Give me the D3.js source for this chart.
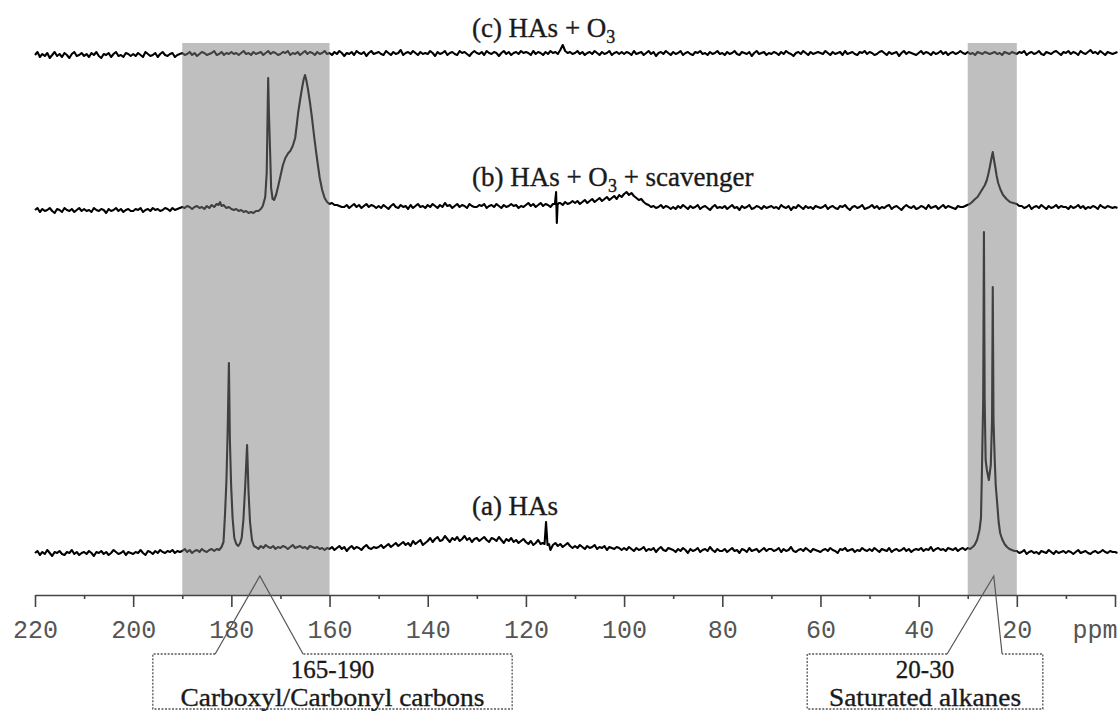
<!DOCTYPE html>
<html><head><meta charset="utf-8">
<script src="https://cdn.jsdelivr.net/npm/d3@7/dist/d3.min.js"></script>
<style>body{margin:0;background:#fff}svg{display:block}</style>
</head><body><div id="chart"></div>
<script>
// ---------- DATA ----------
const gridStart = 220, gridStep = 0.5;           // ppm sampling grid of the noise arrays
const traceNames = ["a", "b", "c"];
const traceOffsets = [44, 386, 540];             // stacking offsets (intensity units)
const majorTicks = [220, 200, 180, 160, 140, 120, 100, 80, 60, 40, 20, 0];
const tickLabels = ["220", "200", "180", "160", "140", "120", "100", "80", "60", "40", "20", "ppm"];
const minorTicks = [210, 190, 170, 150, 130, 110, 90, 70, 50, 30, 10];
const bands = [[190, 160], [30, 20]];
const calloutRanges = ["165-190", "20-30"];
const calloutNames = ["Carboxyl/Carbonyl carbons", "Saturated alkanes"];
const calloutApex = [174.2, 24.7];
const calloutBox = [[196, 122.8], [62.7, 14.7]];
const calloutGap = [[183.3, 165.4], [34.2, 23.0]];
const labelParts = [["(a) HAs"], ["(b) HAs + O", "3", " + scavenger"], ["(c) HAs + O", "3"]];

// baseline noise (intensity relative to trace baseline), every 0.5 ppm from 220 ppm
const noiseA = [
-3,-1,-5,-2,-4,0,-3,-6,-2,-3,-1,-4,-5,-2,-3,0,-4,-2,-5,-3,
-2,-4,-1,-3,-6,-2,-3,-1,-4,-2,-5,-3,0,-2,-4,-3,-1,-5,-2,-3,
-4,-2,-3,0,-3,-5,-1,-2,-4,-1,-3,0,-2,-3,-1,-2,0,-3,-1,-2,
-1,1,-2,0,-3,-1,0,-2,1,-1,-2,0,1,0,0,0,0,0,0,0,
0,0,0,0,0,0,0,0,0,0,3,1,4,2,5,3,2,4,1,3,
2,4,3,1,3,5,2,3,4,2,3,1,4,3,2,3,1,2,0,2,
1,3,0,2,4,1,3,-1,2,4,1,3,2,0,3,5,2,1,3,2,
3,5,2,4,6,3,5,7,4,6,8,5,7,4,9,6,8,10,5,7,
9,12,8,11,13,9,10,14,11,8,12,10,13,9,11,14,10,12,8,11,
12,9,11,13,10,8,12,11,9,13,10,7,11,9,12,8,10,7,9,11,
8,6,9,5,7,10,6,8,0,0,0,5,7,4,6,3,5,7,4,2,
4,2,5,3,1,4,2,3,5,1,3,2,4,0,3,2,1,3,2,0,
2,0,3,1,-1,2,0,1,3,-1,1,0,2,-2,1,3,0,-1,2,1,
0,-2,1,-1,2,0,-3,1,-1,0,2,-2,0,1,-1,3,0,-2,1,-1,
-1,1,-2,0,2,-1,0,-3,1,0,-2,2,-1,0,1,-2,0,2,-1,1,
1,-1,0,2,-2,1,-1,0,3,-1,-2,0,1,-1,2,0,-2,1,0,-1,
-2,0,1,-1,2,0,-1,-3,1,0,2,-1,0,1,-2,0,-1,2,0,-1,
1,-1,2,0,-2,1,0,-1,2,-2,0,1,-1,0,2,-1,1,-2,0,1,
0,2,-1,1,0,3,-1,1,2,0,1,-1,2,0,0,0,0,0,0,0,
0,0,0,0,0,0,0,0,0,0,0,0,0,0,0,0,0,0,0,0,
-1,-3,-2,0,-4,-2,-1,-3,-2,-4,-1,-2,-3,0,-2,-4,-1,-3,-2,-1,
-3,-1,-2,-4,-2,0,-3,-2,-1,-3,-4,-2,-1,-3,-2,0,-2,-3,-1,-2,
-2,-3];
const noiseB = [
-2,0,-4,-1,-3,-2,0,-3,-5,-1,-2,-4,0,-2,-3,-1,-4,-2,0,-3,
-1,-3,-2,-4,0,-2,-3,-1,-2,-5,-1,-3,-2,0,-3,-1,-4,-2,-1,-3,
-3,-1,-2,0,-4,-2,-1,-3,0,-2,-1,-3,-2,0,-1,-3,0,-2,-1,0,
1,0,2,1,-1,1,2,0,0,0,0,0,0,0,0,0,0,0,0,0,
0,0,0,0,0,0,0,0,0,0,0,0,0,0,0,0,0,0,0,0,
0,0,0,0,0,0,0,0,0,0,0,0,0,0,0,0,0,0,0,0,
0,0,0,0,0,0,1,3,0,2,4,1,3,0,2,4,1,3,2,0,
2,0,3,1,-1,2,4,1,0,3,1,2,-1,3,0,2,4,1,2,0,
3,1,4,2,0,3,1,5,2,3,0,2,4,1,3,2,0,4,2,1,
1,3,2,4,0,2,3,1,4,2,0,3,1,2,4,2,3,0,2,1,
3,5,2,4,1,3,5,2,4,3,1,4,3,3,5,3,6,4,5,7,
5,7,4,6,8,5,7,9,6,8,10,7,9,11,8,10,12,9,13,11,
14,16,13,15,12,10,8,9,6,4,3,1,2,0,1,3,0,2,1,-1,
1,-1,2,0,3,1,-1,2,0,1,3,-1,1,2,0,-2,1,3,0,1,
0,2,-1,1,3,0,1,-2,2,0,1,3,-1,0,2,1,-1,2,0,1,
2,0,1,-1,3,1,0,2,-2,1,0,3,1,-1,2,0,1,-1,2,1,
0,1,3,-1,1,2,0,-1,2,1,3,0,-2,1,2,0,1,3,-1,0,
1,3,0,2,-1,1,0,2,3,-1,1,2,0,-2,1,3,1,0,2,-1,
0,2,1,-1,3,0,1,2,-1,1,3,0,2,1,0,-1,2,1,0,0,
0,0,0,0,0,0,0,0,0,0,0,0,0,0,0,0,0,0,0,0,
0,0,2,0,1,3,-1,1,2,0,3,1,-1,2,0,1,3,0,2,1,
1,-1,2,0,1,3,0,2,-1,1,0,2,1,-1,3,1,0,2,1,0,
1,0];
const noiseC = [
-1,2,-3,0,-2,1,-4,-1,2,-2,0,-3,1,-1,-4,0,2,-2,-1,1,
-2,0,-3,1,-1,2,-2,-4,0,-1,1,-3,0,2,-2,-1,-3,1,0,-2,
0,-2,1,-1,-3,2,0,-2,-1,1,-3,0,2,-1,-2,0,1,-3,-1,0,
1,-1,0,2,-1,1,-2,0,2,1,-1,0,1,3,-1,0,2,-1,1,0,
2,0,1,-1,1,3,0,1,-1,2,0,1,2,-1,1,3,0,2,1,-1,
0,2,1,3,-1,1,0,2,-1,1,3,0,2,1,-1,2,0,1,3,0,
1,-1,2,0,3,1,-2,1,0,2,-1,3,1,0,2,-2,1,3,0,1,
2,0,-1,3,1,-1,2,0,1,4,-1,1,2,0,3,1,-1,2,0,1,
0,3,1,-2,2,0,1,3,-1,1,2,0,-1,3,1,2,0,-2,1,3,
1,0,2,-1,3,1,0,2,1,-2,1,3,0,2,-1,1,2,0,3,1,
2,1,-1,3,0,2,1,-1,2,0,3,1,2,0,4,9,3,1,2,0,
1,3,0,2,-1,1,2,0,3,1,-1,2,0,1,3,-1,1,2,0,2,
0,2,1,-1,3,0,1,2,-1,1,3,0,2,-2,1,2,0,3,1,-1,
2,0,1,3,-1,1,2,0,-1,2,1,3,0,1,-1,2,0,1,3,0,
1,-1,2,0,1,3,0,-1,2,1,0,2,-2,1,3,0,1,2,-1,1,
0,2,1,-1,2,0,3,1,0,-2,1,2,0,3,1,-1,2,0,1,2,
1,0,3,1,-1,2,0,1,2,-1,3,0,1,2,0,-1,2,1,3,0,
2,1,-1,0,2,3,1,-1,2,0,1,2,-2,1,3,0,2,1,0,-1,
1,3,0,2,1,-1,2,0,1,3,0,2,-1,1,2,0,1,3,1,0,
2,0,1,-1,2,1,0,2,1,0,1,2,0,1,-1,2,1,0,2,1,
0,2,1,3,-1,1,2,0,1,3,0,-1,2,1,0,2,3,1,-1,2,
1,3,0,2,1,-1,3,1,0,2,4,1,2,0,3,1,-1,2,1,0,
1,2];

// resonances [ppm, intensity] (replace noise in their span)
const peaksA180 = [[183.5,-1],[183,1],[182.5,0],[182,3],[181.6,8],[181.3,35],[181.0,70],[180.75,120],[180.5,187],[180.3,110],[180.05,65],[179.75,32],[179.4,12],[179,6],[178.6,4],[178.2,7],[177.9,12],[177.55,30],[177.2,62],[176.8,105],[176.5,58],[176.2,28],[175.8,10],[175.4,4]];
const peaksA116 = [[116.6,7],[116.2,6],[115.9,28],[115.6,5],[115.3,6]];
const peaksA25 = [[33.5,1],[33,0],[32.5,2],[32,-1],[31.5,1],[31,2],[30.5,0],[30,2],[29.5,1],[29,3],[28.6,5],[28.1,10],[27.6,20],[27.3,32],[27.1,80],[26.85,150],[26.7,318],[26.55,150],[26.35,90],[26.1,80],[25.7,70],[25.3,85],[25.05,130],[24.9,263],[24.75,130],[24.5,90],[24.3,65],[24.0,47],[23.7,28],[23.4,17],[23.0,11],[22.5,6],[22.0,3],[21.5,1],[21,0],[20.5,-1]];
const peaksB170 = [[186,1],[185.5,-1],[185,2],[184.5,0],[184,3],[183.5,1],[183,4],[182.6,3],[182.3,6],[182,2],[181.6,3],[181,0],[180.5,1],[180,-1],[179.5,-2],[179,-1],[178.5,-3],[178,-2],[177.5,-4],[177,-3],[176.5,-5],[176,-4],[175.5,-5],[175,-3],[174.5,-3],[174,-1],[173.6,2],[173.1,11],[172.8,35],[172.6,100],[172.5,130],[172.35,95],[172.1,55],[171.9,20],[171.6,9],[171.3,8],[170.9,13],[170.5,21],[170,32],[169.5,43],[169,50],[168.4,55],[168,57],[167.5,62],[167,70],[166.7,82],[166.4,95],[166,108],[165.6,120],[165.3,128],[165,133],[164.7,127],[164.4,119],[164,106],[163.6,91],[163.1,70],[162.6,51],[162,30],[161.5,18],[161,10],[160.5,6],[160,4],[159.5,5],[159,3],[158.5,3],[158,2],[157.5,1]];
const peaksB114 = [[114.1,4],[113.85,16],[113.7,-15],[113.55,3],[113.3,5]];
const peaksB25 = [[31,1],[30.5,2],[30.1,3],[29.6,4],[29.1,6],[28.5,9],[28,11],[27.5,15],[27,19],[26.5,23],[26.1,28],[25.8,34],[25.5,41],[25.2,49],[24.9,56],[24.65,48],[24.4,41],[24.1,32],[23.8,25],[23.3,18],[22.8,13],[22.1,9],[21.4,6],[20.7,5],[20,4],[19.5,2]];

const traceNoise = [noiseA, noiseB, noiseC];
const tracePeaks = [[peaksA180, peaksA116, peaksA25], [peaksB170, peaksB114, peaksB25], []];

// ---------- LAYOUT ----------
const W = 1120, H = 711;
const axisY = 595;
const serif = "'Liberation Serif', 'Times New Roman', serif";
const svg = d3.select("#chart").append("svg").attr("width", W).attr("height", H);
svg.append("rect").attr("width", W).attr("height", H).attr("fill", "#fff");

const x = d3.scaleLinear().domain([220, 0]).range([35, 1115]);
const y = d3.scaleLinear().domain([0, 560]).range([594, 34]);

function buildTrace(k) {
  const lists = tracePeaks[k];
  const pts = traceNoise[k].map((v, i) => [gridStart - i * gridStep, v])
    .filter(p => !lists.some(l => p[0] <= l[0][0] && p[0] >= l[l.length - 1][0]));
  lists.forEach(l => l.forEach(p => pts.push(p)));
  pts.sort((a, b) => b[0] - a[0]);
  return pts;
}

const line = d3.line().x(d => x(d[0])).y(d => y(d[1]));
traceNames.forEach((n, k) => {
  const off = traceOffsets[k];
  svg.append("path")
    .datum(buildTrace(k).map(p => [p[0], p[1] + off]))
    .attr("d", line)
    .attr("fill", "none").attr("stroke", "#000").attr("stroke-width", 2.1)
    .attr("stroke-linejoin", "round");
});

// shaded ranges (semi-transparent overlay)
svg.selectAll("rect.band").data(bands).enter().append("rect")
  .attr("class", "band")
  .attr("x", d => x(d[0])).attr("width", d => x(d[1]) - x(d[0]))
  .attr("y", 43).attr("height", axisY - 43)
  .attr("fill", "#808080").attr("fill-opacity", 0.5);

// trace labels
const labelLift = [35, 22, 17];
labelParts.forEach((parts, k) => {
  const t = svg.append("text")
    .attr("x", x(131))
    .attr("y", y(traceOffsets[k]) - labelLift[k])
    .attr("font-family", serif)
    .attr("font-size", 27).attr("fill", "#1a1a1a")
    .attr("stroke", "#1a1a1a").attr("stroke-width", 0.35);
  parts.forEach((p, j) => {
    const sub = j % 2 === 1;
    const ts = t.append("tspan").text(p);
    if (sub) ts.attr("font-size", 18).attr("dy", 6);
    else if (j > 0) ts.attr("dy", -6);
  });
});

// axis
const axMaj = svg.append("g").attr("transform", `translate(0,${axisY})`)
  .call(d3.axisBottom(x).tickValues(majorTicks).tickSize(12).tickSizeOuter(0)
    .tickPadding(13).tickFormat((d, i) => tickLabels[i]));
axMaj.select(".domain").attr("stroke", "#444").attr("stroke-width", 1.6);
axMaj.selectAll(".tick line").attr("stroke", "#444").attr("stroke-width", 1.6);
axMaj.selectAll(".tick text")
  .attr("font-family", "'Liberation Mono', 'Courier New', monospace")
  .attr("font-size", 25).attr("fill", "#555");
axMaj.selectAll(".tick text").filter(d => d === 0).attr("text-anchor", "end").attr("x", 2);

const axMin = svg.append("g").attr("transform", `translate(0,${axisY})`)
  .call(d3.axisBottom(x).tickValues(minorTicks).tickSize(4).tickSizeOuter(0).tickFormat(""));
axMin.select(".domain").remove();
axMin.selectAll(".tick line").attr("stroke", "#444").attr("stroke-width", 1.6);

// callouts
const boxTop = axisY + 59, boxBottom = axisY + 114, apexY = axisY - 19;
calloutRanges.forEach((r, k) => {
  const bl = x(calloutBox[k][0]), br = x(calloutBox[k][1]);
  const gl = x(calloutGap[k][0]), gr = x(calloutGap[k][1]);
  const ax = x(calloutApex[k]);
  svg.append("path")
    .attr("d", `M${gl},${boxTop}L${bl},${boxTop}L${bl},${boxBottom}L${br},${boxBottom}L${br},${boxTop}L${gr},${boxTop}`)
    .attr("fill", "#fff").attr("stroke", "#555").attr("stroke-width", 1.3)
    .attr("stroke-dasharray", "2,1.5");
  svg.append("path")
    .attr("d", `M${gl},${boxTop}L${ax},${apexY}L${gr},${boxTop}`)
    .attr("fill", "none").attr("stroke", "#555").attr("stroke-width", 1.2);
  const cx = (bl + br) / 2;
  [r, calloutNames[k]].forEach((txt, j) => {
    svg.append("text").attr("x", cx).attr("y", axisY + (j === 0 ? 83 : 111))
      .attr("text-anchor", "middle")
      .attr("font-family", serif).attr("font-size", 25)
      .attr("textLength", j === 0 ? null : (k === 0 ? 304 : 192))
      .attr("lengthAdjust", "spacingAndGlyphs")
      .attr("fill", "#1a1a1a").attr("stroke", "#1a1a1a").attr("stroke-width", 0.35)
      .text(txt);
  });
});
</script></body></html>
